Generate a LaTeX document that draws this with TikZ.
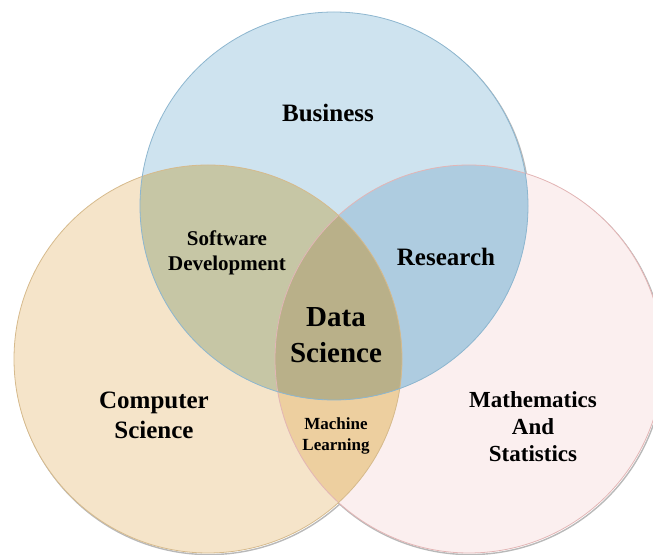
\documentclass[tikz,border=0pt]{standalone}
\usepackage{fontspec}
\setmainfont{Liberation Serif}
\definecolor{bizfill}{HTML}{CEE3EF}
\definecolor{csfill}{HTML}{F5E4C9}
\definecolor{mathfill}{HTML}{FBEFEF}
\definecolor{bizcs}{HTML}{C6C6A5}
\definecolor{bizmath}{HTML}{AECCE0}
\definecolor{csmath}{HTML}{EDCF9F}
\definecolor{dsfill}{HTML}{B9B089}
\definecolor{bizline}{HTML}{8DB6CF}
\definecolor{csline}{HTML}{D6BA8C}
\definecolor{mathline}{HTML}{E3B5B5}
\tikzset{
  lbl/.style={font=\bfseries, align=center, inner sep=0pt},
  rim/.style={line width=0.8pt}
}
\begin{document}
\begin{tikzpicture}[line cap=round,line join=round,x=1pt,y=1pt]
\useasboundingbox (0,0) rectangle (653,554);
\clip (0,0) rectangle (653,554);
\def\rad{194}
\coordinate (biz) at (334,348);
\coordinate (cs) at (208,195);
\coordinate (math) at (469,195);
% soft shadows
\draw [gray!55, line width=1.4pt] ([shift={(1.2,-1.6)}]math) circle (\rad);
\draw [gray!55, line width=1.4pt] ([shift={(1.2,-1.6)}]cs) circle (\rad);
\draw [gray!55, line width=1.4pt] ([shift={(1.2,-1.6)}]biz) circle (\rad);
% circles
\fill [mathfill] (math) circle (\rad);
\fill [csfill] (cs) circle (\rad);
\fill [bizfill] (biz) circle (\rad);
% overlaps
\begin{scope}
  \clip (cs) circle (\rad);
  \fill [csmath] (math) circle (\rad);
\end{scope}
\begin{scope}
  \clip (biz) circle (\rad);
  \fill [bizcs] (cs) circle (\rad);
  \fill [bizmath] (math) circle (\rad);
  \clip (cs) circle (\rad);
  \fill [dsfill] (math) circle (\rad);
\end{scope}
% rims
\draw [rim, mathline] (math) circle (\rad);
\draw [rim, csline] (cs) circle (\rad);
\draw [rim, bizline] (biz) circle (\rad);
% labels
\node [lbl, font=\bfseries\fontsize{25}{30}\selectfont] (business) at (328,441) {Business};
\node [lbl, font=\bfseries\fontsize{21}{25}\selectfont] (softdev) at (227,301) {Software\\Development};
\node [lbl, font=\bfseries\fontsize{25}{30}\selectfont] (research) at (446,297) {Research};
\node [lbl, font=\bfseries\fontsize{29}{36}\selectfont] (datasci) at (336,219) {Data\\Science};
\node [lbl, font=\bfseries\fontsize{25}{30}\selectfont] (compsci) at (154,139) {Computer\\Science};
\node [lbl, font=\bfseries\fontsize{17}{21}\selectfont] (machlearn) at (336,118) {Machine\\Learning};
\node [lbl, font=\bfseries\fontsize{23}{27}\selectfont] (mathstat) at (533,127) {Mathematics\\And\\Statistics};
\end{tikzpicture}
\end{document}
